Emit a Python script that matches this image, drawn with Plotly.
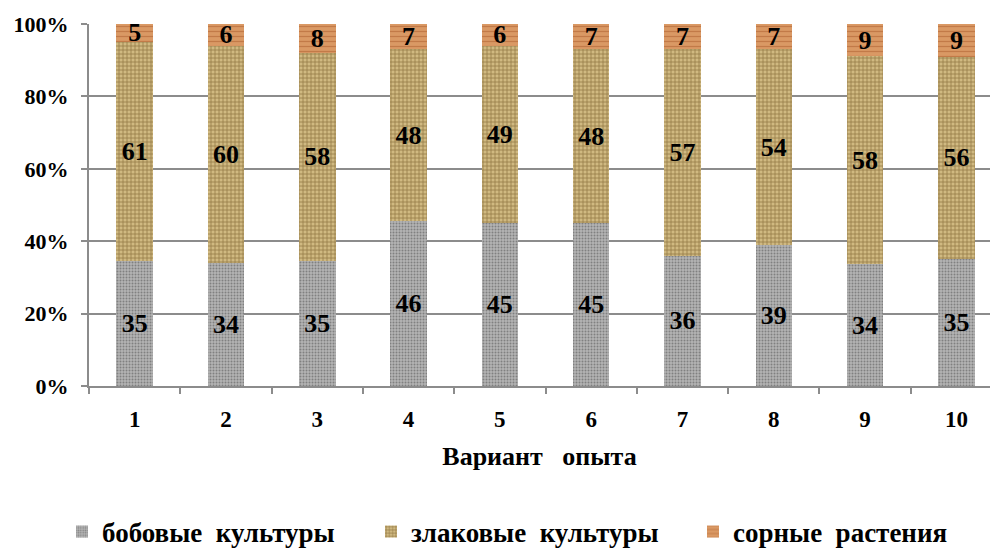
import plotly.graph_objects as go

# Варианты опыта и доли групп растений (в % от общей массы)
variants = ["1", "2", "3", "4", "5", "6", "7", "8", "9", "10"]
legumes = [35, 34, 35, 46, 45, 45, 36, 39, 34, 35]
cereals = [61, 60, 58, 48, 49, 48, 57, 54, 58, 56]
weeds = [5, 6, 8, 7, 6, 7, 7, 7, 9, 9]

series_names = ["бобовые  культуры", "злаковые  культуры", "сорные  растения"]
y_ticks = [0, 20, 40, 60, 80, 100]

FONT = "Liberation Serif, Times New Roman, serif"

styles = [
    dict(bg="#b4b4b4", fg="#808080", shape=".", size=3, solidity=0.35),
    dict(bg="#d0b981", fg="#927a46", shape="+", size=4, solidity=0.35),
    dict(bg="#da9964", fg="#c27a48", shape="-", size=5, solidity=0.25),
]
legend_ids = ["legend", "legend2", "legend3"]
legend_x = [62, 371, 693]  # left edge of each legend entry, px

fig = go.Figure()
for name, vals, st, lid in zip(series_names, [legumes, cereals, weeds], styles, legend_ids):
    fig.add_trace(go.Bar(
        x=variants,
        y=vals,
        name=name.replace("  ", "\u00a0\u00a0"),
        legend=lid,
        text=[str(v) for v in vals],
        texttemplate="%{text}",
        textposition="inside",
        insidetextanchor="middle",
        constraintext="none",
        textangle=0,
        insidetextfont=dict(family=FONT, size=26, color="black", weight="bold"),
        marker=dict(
            color=st["bg"],
            line=dict(width=0),
            pattern=dict(shape=st["shape"], fgcolor=st["fg"], bgcolor=st["bg"],
                         size=st["size"], solidity=st["solidity"], fillmode="replace"),
        ),
    ))

legend_font = dict(family=FONT, size=27, color="black", weight="bold")
legends = {}
for lid, lx in zip(legend_ids, legend_x):
    legends[lid] = dict(
        orientation="h",
        xref="container", yref="container",
        x=lx / 990, y=1 - 532 / 550, xanchor="left", yanchor="middle",
        font=legend_font,
        itemwidth=30,
        bgcolor="rgba(0,0,0,0)",
    )

fig.update_layout(
    barmode="stack",
    barnorm="percent",
    bargap=0.6,
    width=990,
    height=550,
    autosize=False,
    margin=dict(l=89, r=0, t=24, b=164),
    paper_bgcolor="white",
    plot_bgcolor="white",
    font=dict(family=FONT, size=20, color="black", weight="bold"),
    showlegend=True,
    **legends,
    xaxis=dict(
        type="category",
        range=[-0.5, 9.368],
        showline=True, linecolor="#8c8c8c", linewidth=2,
        ticks="outside", tickson="boundaries", ticklen=6, tickcolor="#8c8c8c", tickwidth=2,
        ticklabelstandoff=11,
        tickfont=dict(family=FONT, size=23, color="black", weight="bold"),
        showgrid=False,
        title=dict(text="Вариант\u00a0\u00a0\u00a0опыта",
                   font=dict(family=FONT, size=26, color="black", weight="bold"),
                   standoff=16),
    ),
    yaxis=dict(
        range=[0, 100],
        tickvals=y_ticks,
        ticktext=[f"{v}%" for v in y_ticks],
        showline=True, linecolor="#8c8c8c", linewidth=2,
        ticks="outside", ticklen=6, tickcolor="#8c8c8c", tickwidth=2,
        ticklabelstandoff=8,
        tickfont=dict(family=FONT, size=22, color="black", weight="bold"),
        showgrid=True, gridcolor="#8c8c8c", gridwidth=2,
        zeroline=False,
    ),
)

fig.write_html("out.html")
